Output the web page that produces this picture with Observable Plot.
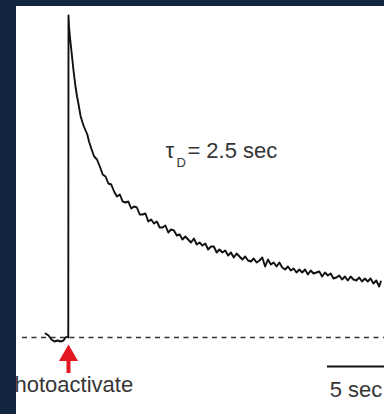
<!DOCTYPE html>
<html>
<head>
<meta charset="utf-8">
<script src="https://cdn.jsdelivr.net/npm/d3@7"></script>
<script src="https://cdn.jsdelivr.net/npm/@observablehq/plot@0.6"></script>
<style>
  html, body { margin: 0; padding: 0; background: #122440; width: 384px; height: 414px; overflow: hidden; }
  #panel { position: absolute; left: 16px; top: 6px; width: 368px; height: 408px; overflow: hidden; background: white; }
  #panel svg { display: block; overflow: hidden; }
</style>
</head>
<body>
<div id="panel"></div>
<script>
// Fluorescence trace after photoactivation (time in sec, signal in a.u., baseline = 0)
const traceTime = [
  -2.02, -1.75, -1.49, -1.23, -0.96, -0.7, -0.44, -0.26, -0.09, -0.02,
  0, 0.05, 0.15, 0.3, 0.45, 0.6, 0.75, 0.9, 1.05, 1.2, 1.35, 1.5, 1.65, 1.8,
  2.0, 2.25, 2.5, 2.75, 3.0, 3.25, 3.5, 3.75, 4.0, 4.25, 4.5, 4.75,
  5.0, 5.25, 5.5, 5.75, 6.0, 6.25, 6.5, 6.75, 7.0, 7.25, 7.5, 7.75,
  8.0, 8.25, 8.5, 8.75, 9.0, 9.25, 9.5, 9.75, 10.0, 10.25, 10.5, 10.75,
  11.0, 11.25, 11.5, 11.75, 12.0, 12.25, 12.5, 12.75, 13.0, 13.25, 13.5, 13.75,
  14.0, 14.25, 14.5, 14.75, 15.0, 15.25, 15.5, 15.75, 16.0, 16.25, 16.5, 16.75,
  17.0, 17.25, 17.5, 17.75, 18.0, 18.25, 18.5, 18.75, 19.0, 19.25, 19.5, 19.75,
  20.0, 20.25, 20.5, 20.75, 21.0, 21.25, 21.5, 21.75, 22.0, 22.25, 22.5, 22.75,
  23.0, 23.25, 23.5, 23.75, 24.0, 24.25, 24.5, 24.75, 25.0, 25.25, 25.5, 25.75,
  26.0, 26.25, 26.5, 26.75, 27.0, 27.25, 27.4
];
const traceSignal = [
  4, 2, -2, -4, -3, -4, -3, 0, 1, 0,
  322, 310, 298, 282, 266, 252, 241, 232, 222, 216, 211, 207, 203, 196,
  189, 181, 178, 171, 163, 161, 154, 153, 146, 141, 143, 136,
  135, 136, 129, 131, 130, 123, 123, 124, 116, 118, 114, 116,
  110, 110, 112, 105, 108, 107, 102, 103, 98, 101, 98, 95,
  99, 93, 95, 92, 94, 88, 91, 91, 85, 88, 85, 87,
  82, 85, 80, 84, 81, 78, 81, 77, 76, 79, 75, 77,
  80, 71, 78, 73, 75, 71, 75, 70, 68, 71, 67, 69,
  65, 68, 65, 68, 63, 67, 64, 65, 66, 61, 65, 62,
  64, 59, 60, 62, 58, 61, 57, 61, 58, 57, 60, 56,
  59, 56, 59, 54, 57, 51, 56
];

// Annotations
const baselineLevel = [0];
const stimulusTime = [0];
const stimulusLabel = ["Photoactivate"];
const tauSymbol = ["τ"];
const tauSubscript = ["D"];
const tauValueText = ["= 2.5 sec"];
const tauLabelPos = { t: 8.5, f: 180 };
const scaleBarStart = [22.72];
const scaleBarEnd = [27.72];
const scaleBarLabel = ["5 sec"];

const font = "'Liberation Sans', Arial, Helvetica, sans-serif";

const chart = Plot.plot({
  width: 368,
  height: 408,
  marginLeft: 6,
  marginRight: 0,
  marginTop: 0,
  marginBottom: 0,
  x: { domain: [-4.035, 27.72], axis: null },
  y: { domain: [-77, 331], axis: null },
  style: { background: "white", fontFamily: font },
  marks: [
    Plot.ruleY(baselineLevel, { stroke: "#333", strokeWidth: 1.6, strokeDasharray: "5,4.5" }),
    Plot.line(traceSignal, { x: traceTime, y: traceSignal, stroke: "#111", strokeWidth: 1.9, strokeLinejoin: "round" }),
    // red arrow: shaft + triangle head
    Plot.ruleX(stimulusTime, { y1: -36, y2: -22, stroke: "#e3171f", strokeWidth: 4 }),
    Plot.dot(stimulusTime, { x: d => d, y: -18, symbol: "triangle", r: 7.05, fill: "#e3171f", stroke: "none" }),
    Plot.text(stimulusLabel, { x: stimulusTime, y: -54, text: d => d, textAnchor: "middle", lineAnchor: "bottom", dx: -2, fontSize: 22, fill: "#363636" }),
    // tau annotation
    Plot.text(tauSymbol, { x: tauLabelPos.t, y: tauLabelPos.f, text: d => d, textAnchor: "start", lineAnchor: "bottom", fontSize: 22, fill: "#363636" }),
    Plot.text(tauSubscript, { x: tauLabelPos.t, y: tauLabelPos.f, text: d => d, textAnchor: "start", lineAnchor: "bottom", dx: 11, dy: 9, fontSize: 13, fill: "#363636" }),
    Plot.text(tauValueText, { x: tauLabelPos.t, y: tauLabelPos.f, text: d => d, textAnchor: "start", lineAnchor: "bottom", dx: 22, fontSize: 22, fill: "#363636" }),
    // scale bar
    Plot.ruleY([-29], { x1: scaleBarStart, x2: scaleBarEnd, stroke: "#111", strokeWidth: 2 }),
    Plot.text(scaleBarLabel, { x: (scaleBarStart[0] + scaleBarEnd[0]) / 2, y: -59, text: d => d, textAnchor: "middle", lineAnchor: "bottom", fontSize: 22, fill: "#363636" })
  ]
});
document.getElementById("panel").appendChild(chart);
</script>
</body>
</html>
